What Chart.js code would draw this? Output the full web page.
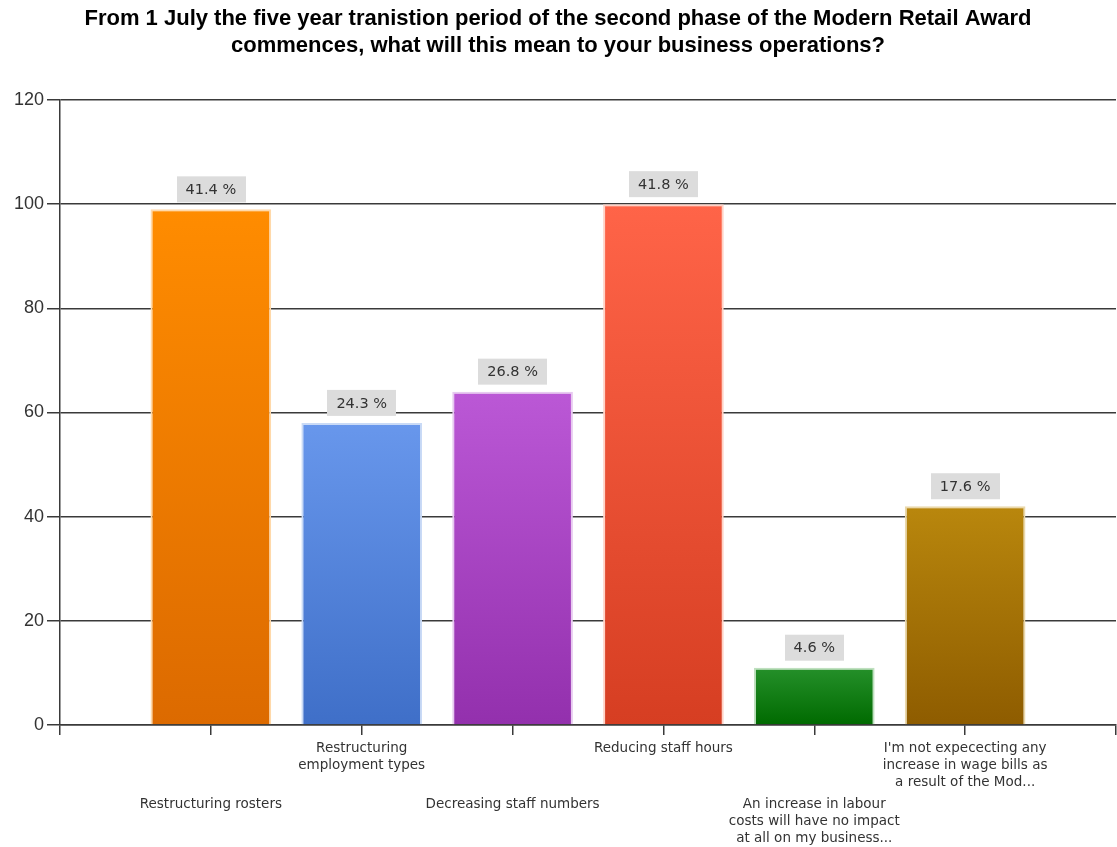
<!DOCTYPE html>
<html>
<head>
<meta charset="utf-8">
<script src="https://cdn.jsdelivr.net/npm/chart.js@4/dist/chart.umd.min.js"></script>
<style>
  html, body { margin: 0; padding: 0; background: #fff; }
  #chart { display: block; }
</style>
</head>
<body>
<canvas id="chart" width="1117" height="847"></canvas>
<script>
// answers, one entry per bar (multi-line labels as arrays)
const categories = [
    ['Restructuring rosters'],
    ['Restructuring', 'employment types'],
    ['Decreasing staff numbers'],
    ['Reducing staff hours'],
    ['An increase in labour', 'costs will have no impact', 'at all on my business...'],
    ["I'm not expececting any", 'increase in wage bills as', 'a result of the Mod...']
];
const responses = [99, 58, 64, 100, 11, 42];
const totalRespondents = 239;
const yTicks = [0, 20, 40, 60, 80, 100, 120];

const topColors = ['#ff8c00', '#6897ec', '#bb58d6', '#ff6448', '#25902a', '#b9870d'];
const bottomColors = ['#dc6a00', '#3f6fc8', '#9330ad', '#d63e22', '#006a00', '#8e5c00'];
const edgeColors = ['#ffd9aa', '#c9daf6', '#e7caf0', '#ffd2c6', '#bfe0bf', '#ead8ab'];

// empty slot at both ends so the bars sit on the inner ticks
const xLabels = ['', ...categories.map(c => c.join(' ')), ''];
const pad = arr => [null, ...arr, null];

function barGradient(context) {
    const i = context.dataIndex - 1;
    const chart = context.chart;
    if (i < 0 || i >= responses.length) return 'transparent';
    if (!chart.chartArea || !chart.scales.y) return topColors[i];
    const y = chart.scales.y;
    const top = y.getPixelForValue(responses[i]);
    const bottom = y.getPixelForValue(0);
    const g = chart.ctx.createLinearGradient(0, top, 0, bottom);
    g.addColorStop(0, topColors[i]);
    g.addColorStop(1, bottomColors[i]);
    return g;
}

const valueBoxes = {
    id: 'valueBoxes',
    afterDatasetsDraw(chart) {
        const ctx = chart.ctx;
        const meta = chart.getDatasetMeta(0);
        ctx.save();
        ctx.font = '14.5px "DejaVu Sans"';
        ctx.textAlign = 'center';
        ctx.textBaseline = 'middle';
        responses.forEach((v, i) => {
            const bar = meta.data[i + 1];
            const text = (v / totalRespondents * 100).toFixed(1) + ' %';
            const w = ctx.measureText(text).width + 18;
            const h = 26;
            const bottom = bar.y - 7;
            ctx.fillStyle = '#dcdcdc';
            ctx.fillRect(Math.round(bar.x - w / 2), bottom - h, Math.round(w), h);
            ctx.fillStyle = '#333';
            ctx.fillText(text, bar.x, bottom - h / 2 + 1);
        });
        ctx.restore();
    }
};

// category names staggered over two rows under the axis
const categoryLabels = {
    id: 'categoryLabels',
    afterDraw(chart) {
        const ctx = chart.ctx;
        const x = chart.scales.x;
        ctx.save();
        ctx.font = '13.5px "DejaVu Sans"';
        ctx.fillStyle = '#333';
        ctx.textAlign = 'center';
        ctx.textBaseline = 'middle';
        categories.forEach((lines, i) => {
            const px = x.getPixelForValue(i + 1);
            const y0 = x.top + (i % 2 === 0 ? 79 : 23);
            lines.forEach((line, k) => ctx.fillText(line, px, y0 + k * 17));
        });
        ctx.restore();
    }
};

new Chart(document.getElementById('chart'), {
    type: 'bar',
    data: {
        labels: xLabels,
        datasets: [{
            data: pad(responses),
            backgroundColor: barGradient,
            borderColor: pad(edgeColors),
            borderWidth: 2,
            barPercentage: 0.8,
            categoryPercentage: 1
        }]
    },
    options: {
        responsive: false,
        animation: false,
        layout: { padding: { right: 1 } },
        plugins: {
            legend: { display: false },
            tooltip: { enabled: false },
            title: {
                display: true,
                text: [
                    'From 1 July the five year tranistion period of the second phase of the Modern Retail Award',
                    'commences, what will this mean to your business operations?'
                ],
                color: '#000',
                font: { family: '"Liberation Sans", Arial', size: 22, weight: 'bold', lineHeight: 1.227 },
                padding: { top: 5, bottom: 41 }
            }
        },
        scales: {
            x: {
                offset: false,
                grid: { offset: false, drawOnChartArea: false, drawTicks: true, tickLength: 10, color: '#3a3a3a', lineWidth: 1.5 },
                border: { color: '#3a3a3a', width: 1.5 },
                ticks: { display: false, autoSkip: false, maxRotation: 0 },
                afterFit: s => { s.height = 122; }
            },
            y: {
                min: 0,
                max: 120,
                afterBuildTicks: s => { s.ticks = yTicks.map(v => ({ value: v })); },
                grid: { color: '#3a3a3a', lineWidth: 1.5, tickLength: 13 },
                border: { color: '#3a3a3a', width: 1.5 },
                ticks: {
                    color: '#333',
                    padding: 3,
                    font: { family: '"Liberation Sans", Arial', size: 18 }
                },
                afterFit: s => { s.width = 60; }
            }
        }
    },
    plugins: [valueBoxes, categoryLabels]
});
</script>
</body>
</html>
